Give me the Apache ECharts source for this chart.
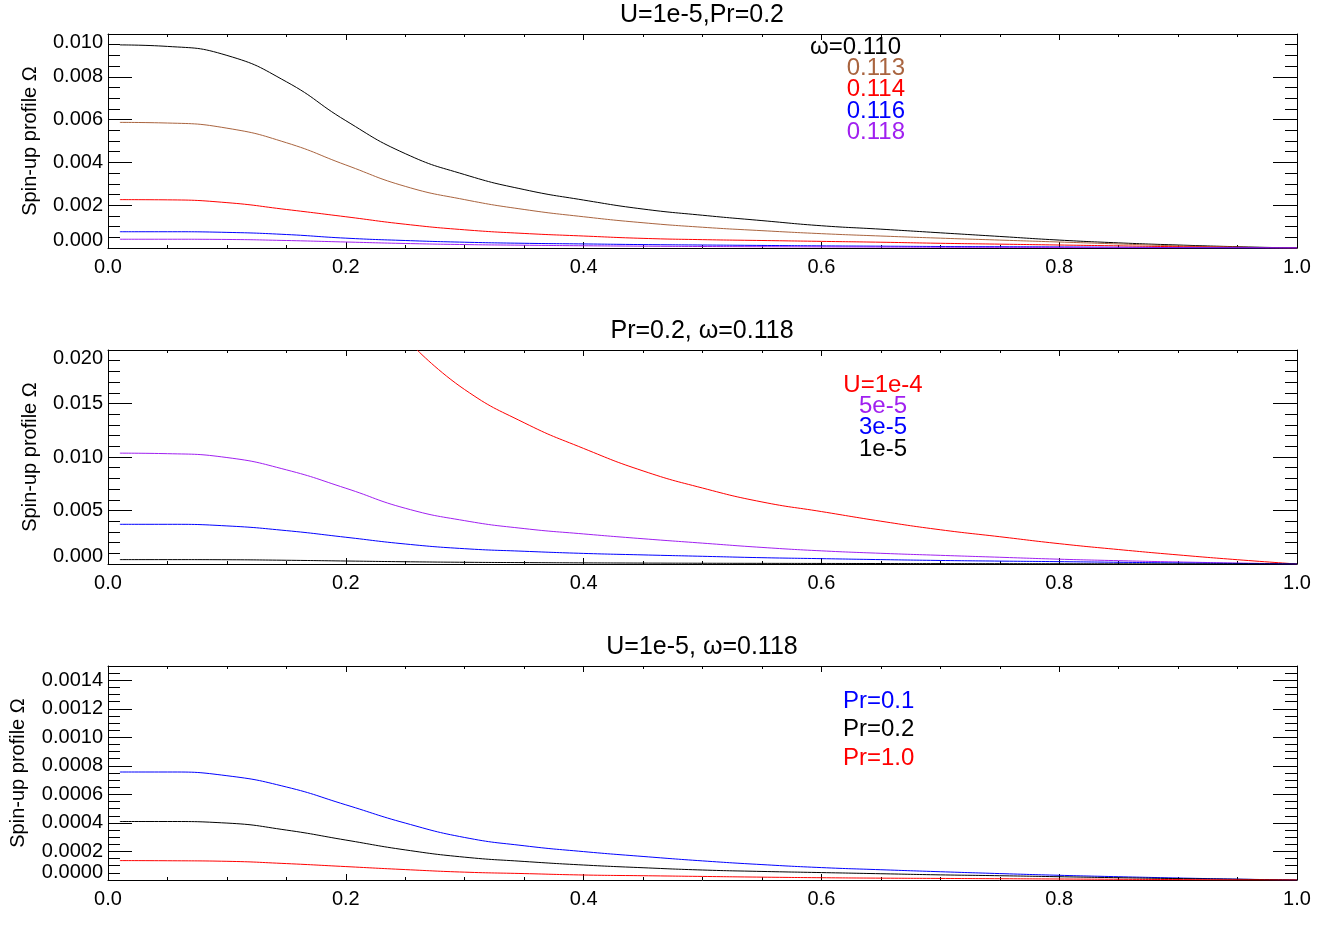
<!DOCTYPE html>
<html>
<head>
<meta charset="utf-8">
<title>Spin-up profiles</title>
<script src="https://cdn.jsdelivr.net/npm/echarts@6.0.0/dist/echarts.min.js"></script>
<style>
html, body { margin: 0; padding: 0; background: #fff; }
#main { width: 1329px; height: 949px; }
</style>
</head>
<body>
<div id="main"></div>
<script>
var xs = [0.01, 0.05, 0.1, 0.15, 0.2, 0.25, 0.3, 0.35, 0.4, 0.45, 0.5, 0.55, 0.6, 0.65, 0.7, 0.75, 0.8, 0.85, 0.9, 0.95, 1.0];

// U=1e-5, Pr=0.2, omega=0.118 : shows up in all three panels
var base118 = [0.00041, 0.00041, 0.000399, 0.00035, 0.00028, 0.000211, 0.00016, 0.00013, 0.000105, 0.000086, 0.00007, 0.00006, 0.000052, 0.000044, 0.000036, 0.00003, 0.000023, 0.000016, 0.00001, 0.000005, 0];

// panel 1 : U=1e-5, Pr=0.2, different omega
var w110 = [0.00949, 0.00942, 0.00900, 0.00777, 0.00595, 0.00441, 0.00343, 0.00273, 0.00224, 0.00182, 0.00153, 0.00128, 0.00104, 0.00088, 0.00071, 0.00054, 0.00037, 0.00024, 0.00014, 0.00006, 0];
var w113 = [0.00587, 0.00584, 0.00560, 0.00492, 0.00388, 0.00288, 0.00226, 0.00180, 0.00146, 0.00118, 0.00097, 0.00081, 0.00067, 0.00056, 0.00046, 0.00037, 0.00028, 0.00019, 0.00010, 0.00004, 0];
var w114 = [0.00226, 0.00225, 0.00212, 0.00180, 0.00146, 0.00111, 0.00085, 0.00068, 0.00056, 0.00045, 0.00039, 0.00035, 0.00031, 0.00027, 0.00022, 0.00018, 0.00014, 0.00010, 0.00006, 0.00003, 0];
var w116 = [0.00076, 0.00076, 0.00073, 0.00063, 0.00046, 0.00035, 0.00027, 0.00022, 0.00019, 0.00016, 0.00014, 0.00012, 0.00010, 0.000085, 0.00007, 0.00006, 0.00005, 0.000035, 0.00002, 0.00001, 0];

// panel 2 : Pr=0.2, omega=0.118, different U
var xsU4 = [0.26, 0.3, 0.35, 0.4, 0.45, 0.5, 0.55, 0.6, 0.65, 0.7, 0.75, 0.8, 0.85, 0.9, 0.95, 1.0];
var u4 = [0.0200, 0.0163, 0.0132, 0.0108, 0.0087, 0.0071, 0.0058, 0.0049, 0.0040, 0.0032, 0.00255, 0.0019, 0.00135, 0.00085, 0.0004, 0];
var u5e5 = [0.01036, 0.01031, 0.00995, 0.00880, 0.00708, 0.00521, 0.00405, 0.00331, 0.00281, 0.00236, 0.00195, 0.00155, 0.00123, 0.00100, 0.00081, 0.00063, 0.00045, 0.00031, 0.00019, 0.00009, 0];
var u3e5 = [0.00371, 0.00371, 0.00356, 0.00312, 0.00250, 0.00187, 0.00143, 0.00119, 0.00099, 0.00085, 0.00072, 0.00059, 0.00050, 0.00041, 0.00033, 0.00027, 0.00022, 0.00016, 0.00010, 0.00005, 0];

// panel 3 : U=1e-5, omega=0.118, different Pr
var pr01 = [0.000757, 0.000757, 0.000731, 0.000652, 0.000527, 0.000399, 0.000298, 0.000240, 0.000199, 0.000165, 0.000134, 0.000108, 0.000087, 0.000072, 0.000058, 0.000045, 0.000033, 0.000023, 0.000014, 0.000006, 0];
var pr10 = [0.000136, 0.000135, 0.000131, 0.000115, 0.000094, 0.000073, 0.000055, 0.000045, 0.000035, 0.00003, 0.000025, 0.00002, 0.000016, 0.000013, 0.000011, 0.000009, 0.000007, 0.000005, 0.000003, 0.000001, 0];

var titles = ['U=1e-5,Pr=0.2', 'Pr=0.2, \u03c9=0.118', 'U=1e-5, \u03c9=0.118'];
var legend1 = ['\u03c9=0.110', '0.113', '0.114', '0.116', '0.118'];
var legend2 = ['U=1e-4', '5e-5', '3e-5', '1e-5'];
var legend3 = ['Pr=0.1', 'Pr=0.2', 'Pr=1.0'];

var BLACK = '#000000', BROWN = '#a9643f', RED = '#ff0000', BLUE = '#0000ff', PURPLE = '#a020f0';
var font = '"Liberation Sans", Arial, Helvetica, sans-serif';

function pairs(x, y) {
    return x.map(function (v, i) { return [v, y[i]]; });
}

// each panel: box position and y scale
var panels = [
    { top: 34,  max: 0.010,  interval: 0.002,  minor: 4, digits: 3, gap: 68 },
    { top: 350, max: 0.020,  interval: 0.005,  minor: 5, digits: 3, gap: 68 },
    { top: 666, max: 0.0015, interval: 0.0002, minor: 4, digits: 4, gap: 80 }
];

var grids = [], xAxes = [], yAxes = [], series = [], graphics = [];

panels.forEach(function (p, i) {
    grids.push({ left: 108, top: p.top, width: 1189, height: 214, containLabel: false });

    var xBase = {
        type: 'value', gridIndex: i, min: 0, max: 1, interval: 0.2,
        axisLine: { show: true, onZero: false, lineStyle: { color: '#000', width: 1 } },
        axisTick: { show: true, inside: true, length: 6, lineStyle: { color: '#000', width: 1 } },
        minorTick: { show: true, splitNumber: 4, length: 3, lineStyle: { color: '#000', width: 1 } },
        splitLine: { show: false }, minorSplitLine: { show: false }
    };
    xAxes.push(Object.assign({}, xBase, {
        position: 'bottom',
        axisLabel: { show: true, margin: 9, color: '#000', fontSize: 20, fontFamily: font,
            showMinLabel: true, showMaxLabel: true,
            formatter: function (v) { return v.toFixed(1); } }
    }));
    xAxes.push(Object.assign({}, xBase, { position: 'top', axisLabel: { show: false } }));

    var yBase = {
        type: 'value', gridIndex: i, min: 0, max: p.max, interval: p.interval,
        axisLine: { show: true, onZero: false, lineStyle: { color: '#000', width: 1 } },
        axisTick: { show: true, inside: true, length: 24, lineStyle: { color: '#000', width: 1 } },
        minorTick: { show: true, splitNumber: p.minor, length: 12, lineStyle: { color: '#000', width: 1 } },
        splitLine: { show: false }, minorSplitLine: { show: false }
    };
    yAxes.push(Object.assign({}, yBase, {
        position: 'left',
        name: 'Spin-up profile \u03a9', nameLocation: 'middle', nameGap: p.gap, nameRotate: 90,
        nameTextStyle: { color: '#000', fontSize: 20, fontFamily: font },
        axisLabel: { show: true, margin: 5, color: '#000', fontSize: 20, lineHeight: 16, fontFamily: font,
            showMinLabel: true, showMaxLabel: i !== 2, hideOverlap: false,
            verticalAlignMinLabel: 'bottom', verticalAlignMaxLabel: 'top',
            formatter: function (v) { return v.toFixed(p.digits); } }
    }));
    yAxes.push(Object.assign({}, yBase, { position: 'right', axisLabel: { show: false } }));

    graphics.push({
        type: 'text', x: 702, y: p.top - 19,
        style: { text: titles[i], fill: '#000', font: '25px ' + font, textAlign: 'center', textVerticalAlign: 'middle' }
    });
});

function addLine(gi, x, y, color) {
    series.push({
        type: 'line', xAxisIndex: gi * 2, yAxisIndex: gi * 2, data: pairs(x, y),
        showSymbol: false, smooth: 0.5, clip: true,
        lineStyle: { color: color, width: 1 }, itemStyle: { color: color }
    });
}

addLine(0, xs, w110, BLACK);
addLine(0, xs, w113, BROWN);
addLine(0, xs, w114, RED);
addLine(0, xs, w116, BLUE);
addLine(0, xs, base118, PURPLE);

addLine(1, xsU4, u4, RED);
addLine(1, xs, u5e5, PURPLE);
addLine(1, xs, u3e5, BLUE);
addLine(1, xs, base118, BLACK);

addLine(2, xs, pr01, BLUE);
addLine(2, xs, base118, BLACK);
addLine(2, xs, pr10, RED);

// in-plot labels
function label(text, x, y, color, align) {
    graphics.push({
        type: 'text', x: x, y: y,
        style: { text: text, fill: color, font: '24px ' + font, textAlign: align, textVerticalAlign: 'middle' }
    });
}
var c1 = [BLACK, BROWN, RED, BLUE, PURPLE];
legend1.forEach(function (t, k) { label(t, k === 0 ? 901 : 905, 47 + k * 21.3, c1[k], 'right'); });
var c2 = [RED, PURPLE, BLUE, BLACK];
legend2.forEach(function (t, k) { label(t, 883, 385 + k * 21.3, c2[k], 'center'); });
var c3 = [BLUE, BLACK, RED];
legend3.forEach(function (t, k) { label(t, 843, 701 + k * 28.5, c3[k], 'left'); });

var myChart = echarts.init(document.getElementById('main'));
myChart.setOption({
    animation: false,
    backgroundColor: '#fff',
    grid: grids,
    xAxis: xAxes,
    yAxis: yAxes,
    series: series,
    graphic: graphics
});
</script>
</body>
</html>
